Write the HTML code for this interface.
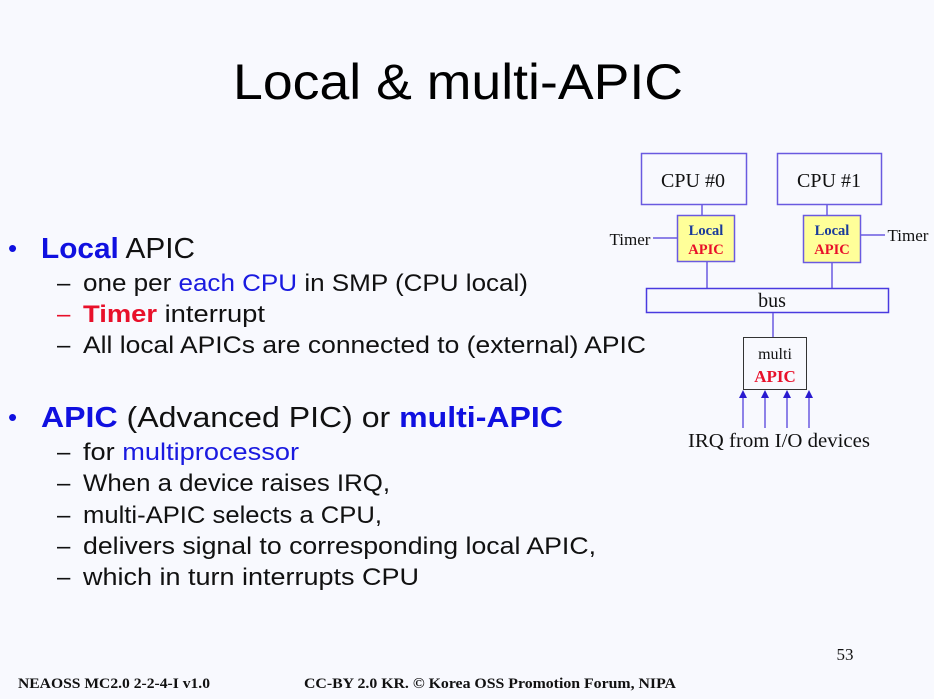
<!DOCTYPE html>
<html><head><style>body{margin:0;background:#f8f9fe}svg{display:block}</style></head>
<body>
<svg width="934" height="699" viewBox="0 0 934 699" xmlns="http://www.w3.org/2000/svg" font-family="Liberation Sans, sans-serif">
<rect width="934" height="699" fill="#f8f9fe"/>
<text x="233" y="99" font-size="50" textLength="450" lengthAdjust="spacingAndGlyphs" fill="#000">Local &amp; multi-APIC</text>
<g font-size="24" fill="#111">
<text x="8" y="257" font-size="26" fill="#1010e0">•</text>
<text x="41" y="258" font-size="29" textLength="154" lengthAdjust="spacingAndGlyphs"><tspan fill="#1010e0" font-weight="bold">Local</tspan> APIC</text>
<text x="57" y="291">–</text>
<text x="83" y="291" textLength="445" lengthAdjust="spacingAndGlyphs">one per <tspan fill="#1a1ae0">each CPU</tspan> in SMP (CPU local)</text>
<text x="57" y="322" fill="#e8102a">–</text>
<text x="83" y="322" textLength="182" lengthAdjust="spacingAndGlyphs"><tspan fill="#e8102a" font-weight="bold">Timer</tspan> interrupt</text>
<text x="57" y="353">–</text>
<text x="83" y="353" textLength="563" lengthAdjust="spacingAndGlyphs">All local APICs are connected to (external) APIC</text>
<text x="8" y="426" font-size="26" fill="#1010e0">•</text>
<text x="41" y="427" font-size="29" textLength="522" lengthAdjust="spacingAndGlyphs"><tspan fill="#1010e0" font-weight="bold">APIC</tspan> (Advanced PIC)  or <tspan fill="#1010e0" font-weight="bold">multi-APIC</tspan></text>
<text x="57" y="460">–</text>
<text x="83" y="460" textLength="216" lengthAdjust="spacingAndGlyphs">for <tspan fill="#1a1ae0">multiprocessor</tspan></text>
<text x="57" y="491">–</text>
<text x="83" y="491" textLength="307" lengthAdjust="spacingAndGlyphs">When a device raises IRQ,</text>
<text x="57" y="523">–</text>
<text x="83" y="523" textLength="299" lengthAdjust="spacingAndGlyphs">multi-APIC selects a CPU,</text>
<text x="57" y="554">–</text>
<text x="83" y="554" textLength="513" lengthAdjust="spacingAndGlyphs">delivers signal to corresponding local APIC,</text>
<text x="57" y="585">–</text>
<text x="83" y="585" textLength="336" lengthAdjust="spacingAndGlyphs">which in turn interrupts CPU</text>
</g>
<g stroke="#6a5ae0" stroke-width="1.5" fill="none">
<rect x="641.5" y="153.5" width="105" height="51"/>
<rect x="777.5" y="153.5" width="104" height="51"/>
<line x1="702" y1="205" x2="702" y2="215"/>
<line x1="827" y1="205" x2="827" y2="215"/>
<rect x="677.5" y="215.5" width="57" height="46" fill="#ffff99"/>
<rect x="803.5" y="215.5" width="57" height="47" fill="#ffff99"/>
<line x1="653" y1="238" x2="677" y2="238"/>
<line x1="861" y1="235" x2="885" y2="235"/>
<line x1="707" y1="262" x2="707" y2="288"/>
<line x1="832" y1="263" x2="832" y2="288"/>
<rect x="646.5" y="288.5" width="242" height="24" stroke="#4a3ae0"/>
<line x1="773" y1="313" x2="773" y2="337"/>
<line x1="743" y1="428" x2="743" y2="396"/>
<line x1="765" y1="428" x2="765" y2="396"/>
<line x1="787" y1="428" x2="787" y2="396"/>
<line x1="809" y1="428" x2="809" y2="396"/>
</g>
<rect x="743.5" y="337.5" width="63" height="52" fill="none" stroke="#333" stroke-width="1"/>
<g fill="#2a1ad0">
<polygon points="743,390 739,398 747,398"/>
<polygon points="765,390 761,398 769,398"/>
<polygon points="787,390 783,398 791,398"/>
<polygon points="809,390 805,398 813,398"/>
</g>
<g font-family="Liberation Serif, serif" text-anchor="middle">
<text x="693" y="187" font-size="20" fill="#111">CPU #0</text>
<text x="829" y="187" font-size="20" fill="#111">CPU #1</text>
<text x="706" y="235" font-size="14.5" font-weight="bold" fill="#1a3a9a">Local</text>
<text x="706" y="254" font-size="14.5" font-weight="bold" fill="#e8102a">APIC</text>
<text x="832" y="235" font-size="14.5" font-weight="bold" fill="#1a3a9a">Local</text>
<text x="832" y="254" font-size="14.5" font-weight="bold" fill="#e8102a">APIC</text>
<text x="630" y="245" font-size="17" fill="#111">Timer</text>
<text x="908" y="241" font-size="17" fill="#111">Timer</text>
<text x="772" y="307" font-size="20" fill="#111">bus</text>
<text x="775" y="359" font-size="16" fill="#111">multi</text>
<text x="775" y="382" font-size="17" font-weight="bold" fill="#e8102a">APIC</text>
<text x="779" y="447" font-size="20" textLength="182" lengthAdjust="spacingAndGlyphs" fill="#111">IRQ from I/O devices</text>
<text x="845" y="660" font-size="17" fill="#111">53</text>
</g>
<g font-family="Liberation Serif, serif" font-size="15" font-weight="bold" fill="#111">
<text x="18" y="688" textLength="192" lengthAdjust="spacingAndGlyphs">NEAOSS MC2.0 2-2-4-I v1.0</text>
<text x="304" y="688" textLength="372" lengthAdjust="spacingAndGlyphs">CC-BY 2.0 KR. © Korea OSS Promotion Forum, NIPA</text>
</g>
</svg>
</body></html>
